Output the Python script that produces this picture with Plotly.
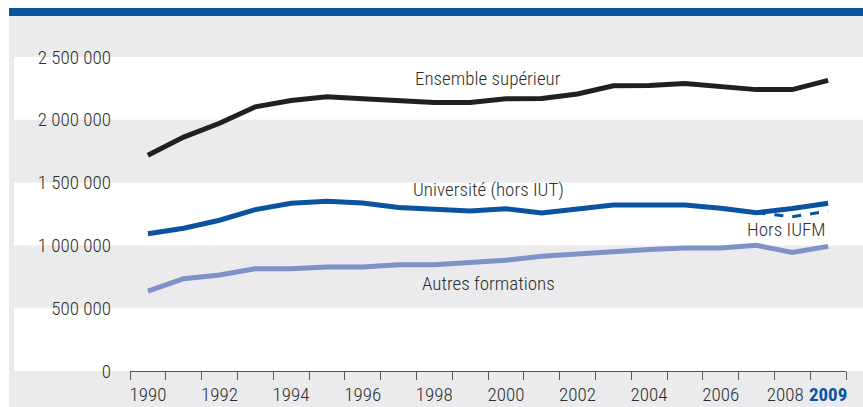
import plotly.graph_objects as go

years = list(range(1990, 2010))
ensemble = [1718000, 1862000, 1972000, 2103000, 2153000, 2183000, 2168000, 2153000, 2138000, 2138000,
            2168000, 2170000, 2205000, 2270000, 2273000, 2288000, 2260000, 2240000, 2240000, 2313000]
universite = [1092000, 1136000, 1200000, 1285000, 1336000, 1352000, 1338000, 1302000, 1287000, 1274000,
              1292000, 1258000, 1290000, 1322000, 1322000, 1322000, 1295000, 1260000, 1293000, 1336000]
hors_iufm_years = [2007, 2008, 2009]
hors_iufm = [1260000, 1229000, 1272000]
autres = [636000, 735000, 764000, 814000, 814000, 827000, 827000, 845000, 845000, 864000,
          882000, 913000, 933000, 953000, 968000, 980000, 980000, 1000000, 943000, 992000]

y_tickvals = [0, 500000, 1000000, 1500000, 2000000, 2500000]
y_ticktext = ["0", "500 000", "1 000 000", "1 500 000", "2 000 000", "2 500 000"]
x_tickvals = [1990, 1992, 1994, 1996, 1998, 2000, 2002, 2004, 2006, 2008, 2009]
x_ticktext = ["1990", "1992", "1994", "1996", "1998", "2000", "2002", "2004", "2006", "2008",
              "<b><span style='color:#0b56a2'>2009</span></b>"]

FONT = "Roboto Condensed"
TXT = "#2e2e2e"
BLUE = "#0b52a0"
YMAX = 2834000

# nudge the 2008 label left so it does not collide with the bold 2009 label
label_pos = [v - 0.2 if v == 2008 else v for v in x_tickvals]

fig = go.Figure()
fig.add_trace(go.Scatter(x=years, y=autres, mode="lines",
                         line=dict(color="#7f92c8", width=5), hoverinfo="skip"))
fig.add_trace(go.Scatter(x=years, y=universite, mode="lines",
                         line=dict(color=BLUE, width=5), hoverinfo="skip"))
fig.add_trace(go.Scatter(x=hors_iufm_years, y=hors_iufm, mode="lines",
                         line=dict(color=BLUE, width=3, dash="dash"), hoverinfo="skip"))
fig.add_trace(go.Scatter(x=years, y=ensemble, mode="lines",
                         line=dict(color="#231f20", width=5), hoverinfo="skip"))

W, H = 863, 407
L, R, T, B = 130, 17, 15, 36
pw = W - L - R
ph = H - T - B

def px_x(px):
    return (px - L) / pw

def px_y(py):
    return (H - B - py) / ph

shapes = []
# grey panel
shapes.append(dict(type="rect", xref="paper", yref="paper", x0=px_x(9), x1=px_x(870),
                   y0=px_y(420), y1=px_y(16), fillcolor="#ebebed", line_width=0, layer="below"))
# blue top bar
shapes.append(dict(type="rect", xref="paper", yref="paper", x0=px_x(9), x1=px_x(870),
                   y0=px_y(16), y1=px_y(8), fillcolor="#0a55a0", line_width=0, layer="below"))
# white bands
for lo in [0, 1000000, 2000000]:
    shapes.append(dict(type="rect", xref="paper", yref="paper", x0=px_x(14), x1=px_x(870),
                       y0=lo / YMAX, y1=(lo + 500000) / YMAX, fillcolor="white",
                       line_width=0, layer="below"))

ann_font = dict(family=FONT, size=19, weight=300, color=TXT)
annotations = [
    dict(x=1999.5, y=2325000, text="Ensemble supérieur", showarrow=False, font=ann_font),
    dict(x=1999.5, y=1441000, text="Université (hors IUT)", showarrow=False, font=ann_font),
    dict(x=2009.0, y=1123000, text="Hors IUFM", showarrow=False, xanchor="right", font=ann_font),
    dict(x=1999.5, y=693000, text="Autres formations", showarrow=False, font=ann_font),
]

tick_font = dict(family=FONT, size=19, weight=300, color=TXT)
fig.update_layout(
    width=W, height=H,
    margin=dict(l=L, r=R, t=T, b=B, pad=0),
    paper_bgcolor="white",
    plot_bgcolor="rgba(0,0,0,0)",
    showlegend=False,
    shapes=shapes,
    annotations=annotations,
    font=dict(family=FONT, size=19, color=TXT),
    xaxis=dict(range=[1989.5, 2009.5], tickmode="array", tickvals=label_pos, ticktext=x_ticktext,
               ticks="", showgrid=False, zeroline=False, showline=True, linecolor="#555555",
               linewidth=1, ticklabelstandoff=6, tickfont=tick_font, tickangle=0, automargin=False,
               minor=dict(tickmode="linear", tick0=1989.5, dtick=1, ticks="outside",
                          ticklen=8, tickcolor="#555555", tickwidth=1, showgrid=False)),
    yaxis=dict(range=[0, YMAX], tickmode="array", tickvals=y_tickvals, ticktext=y_ticktext,
               ticks="", showgrid=False, zeroline=False, showline=False, ticklabelstandoff=18,
               tickfont=tick_font, automargin=False),
)

fig.write_html("out.html", config={"displayModeBar": False},
               post_script="document.body.style.margin='0';")
